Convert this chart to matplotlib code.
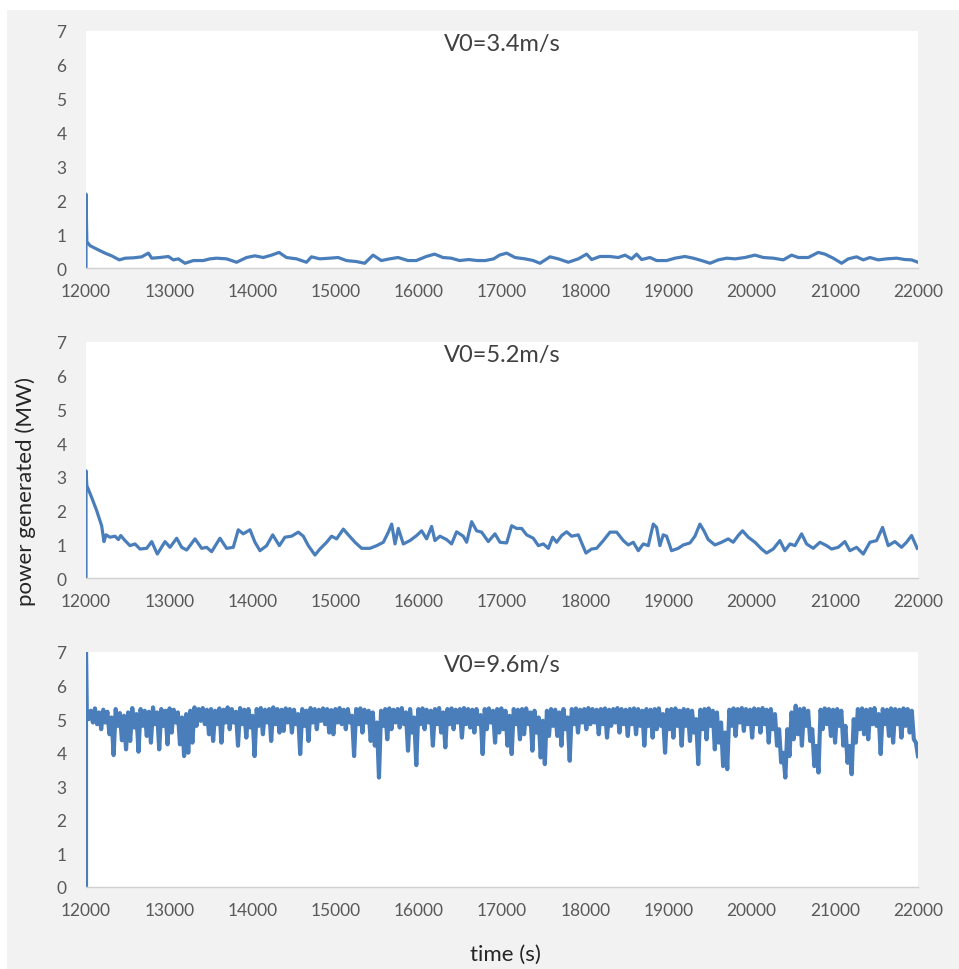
import numpy as np
import matplotlib
matplotlib.use("Agg")
import matplotlib.pyplot as plt
from matplotlib.patches import Rectangle

plt.rcParams["font.family"] = ["Lato", "DejaVu Sans"]

# ---------------- data ----------------
x_ticks = [12000, 13000, 14000, 15000, 16000, 17000, 18000, 19000, 20000, 21000, 22000]
y_ticks = [0, 1, 2, 3, 4, 5, 6, 7]
titles = ["V0=3.4m/s", "V0=5.2m/s", "V0=9.6m/s"]
x_label = "time (s)"
y_label = "power generated (MW)"

# V0 = 3.4 m/s
t1 = [12000, 12000, 12010, 12048, 12128, 12228, 12308, 12400, 12470, 12570,
      12670, 12750, 12790, 12890, 12990, 13050, 13110, 13190, 13290, 13410,
      13490, 13570, 13690, 13810, 13930, 14030, 14130, 14230, 14320, 14410,
      14530, 14650, 14710, 14810, 14930, 15030, 15130, 15250, 15350, 15450,
      15550, 15650, 15750, 15870, 15970, 16090, 16190, 16290, 16390, 16490,
      16600, 16700, 16800, 16900, 16970, 17056, 17156, 17276, 17376, 17456,
      17577, 17677, 17797, 17917, 18017, 18077, 18178, 18298, 18398, 18478,
      18558, 18618, 18678, 18778, 18858, 18979, 19079, 19199, 19299, 19399,
      19500, 19600, 19700, 19800, 19920, 20040, 20141, 20261, 20381, 20481,
      20561, 20681, 20801, 20881, 20981, 21082, 21162, 21262, 21342, 21422,
      21522, 21622, 21743, 21843, 21923, 22000]
v1 = [0.00, 2.18, 0.78, 0.66, 0.56, 0.44, 0.36, 0.24, 0.29, 0.30,
      0.33, 0.44, 0.29, 0.31, 0.34, 0.24, 0.27, 0.14, 0.22, 0.22,
      0.27, 0.29, 0.27, 0.17, 0.31, 0.36, 0.31, 0.38, 0.46, 0.31,
      0.27, 0.17, 0.33, 0.27, 0.29, 0.31, 0.22, 0.19, 0.14, 0.38,
      0.22, 0.27, 0.31, 0.22, 0.22, 0.34, 0.41, 0.31, 0.29, 0.22,
      0.25, 0.22, 0.22, 0.27, 0.38, 0.44, 0.31, 0.27, 0.22, 0.14,
      0.33, 0.27, 0.17, 0.27, 0.41, 0.25, 0.34, 0.34, 0.31, 0.38,
      0.27, 0.41, 0.25, 0.31, 0.22, 0.22, 0.29, 0.34, 0.29, 0.22,
      0.14, 0.24, 0.29, 0.27, 0.31, 0.38, 0.31, 0.29, 0.24, 0.38,
      0.31, 0.31, 0.46, 0.41, 0.29, 0.14, 0.27, 0.33, 0.24, 0.31,
      0.24, 0.27, 0.29, 0.25, 0.24, 0.17]

# V0 = 5.2 m/s
t2 = [12000, 12000, 12010, 12068, 12128, 12188, 12216, 12240, 12288, 12349,
      12389, 12417, 12469, 12529, 12589, 12649, 12729, 12790, 12857, 12950,
      13010, 13090, 13150, 13210, 13310, 13390, 13450, 13510, 13610, 13690,
      13770, 13830, 13890, 13971, 14031, 14091, 14171, 14244, 14324, 14391,
      14471, 14551, 14612, 14672, 14752, 14812, 14892, 14952, 15012, 15093,
      15153, 15233, 15313, 15413, 15494, 15574, 15634, 15674, 15714, 15754,
      15814, 15894, 15974, 16034, 16094, 16154, 16194, 16254, 16334, 16394,
      16454, 16534, 16575, 16635, 16695, 16755, 16835, 16915, 16976, 17056,
      17116, 17176, 17236, 17296, 17376, 17437, 17497, 17557, 17609, 17657,
      17717, 17777, 17837, 17917, 18009, 18077, 18137, 18218, 18298, 18378,
      18458, 18518, 18578, 18638, 18698, 18758, 18818, 18858, 18898, 18938,
      18978, 19038, 19118, 19179, 19259, 19319, 19379, 19427, 19479, 19559,
      19639, 19719, 19779, 19839, 19891, 19960, 20040, 20120, 20180, 20260,
      20340, 20400, 20461, 20521, 20601, 20661, 20741, 20821, 20901, 20961,
      21041, 21121, 21181, 21262, 21342, 21422, 21502, 21574, 21642, 21722,
      21802, 21862, 21923, 21990]
v2 = [0.00, 3.18, 2.74, 2.39, 2.00, 1.55, 1.08, 1.28, 1.21, 1.24,
      1.14, 1.26, 1.11, 0.96, 1.01, 0.86, 0.88, 1.08, 0.71, 1.08,
      0.91, 1.18, 0.91, 0.83, 1.16, 0.88, 0.91, 0.78, 1.18, 0.88,
      0.91, 1.43, 1.31, 1.43, 1.06, 0.81, 0.96, 1.28, 0.96, 1.21,
      1.24, 1.36, 1.24, 0.96, 0.68, 0.86, 1.06, 1.24, 1.16, 1.45,
      1.28, 1.06, 0.88, 0.88, 0.96, 1.06, 1.36, 1.60, 1.01, 1.47,
      1.01, 1.11, 1.26, 1.40, 1.16, 1.53, 1.11, 1.24, 1.14, 1.01,
      1.37, 1.24, 1.06, 1.67, 1.40, 1.36, 1.08, 1.31, 1.06, 1.04,
      1.55, 1.47, 1.47, 1.28, 1.18, 0.96, 1.01, 0.88, 1.21, 1.06,
      1.26, 1.37, 1.24, 1.28, 0.74, 0.86, 0.88, 1.11, 1.36, 1.36,
      1.11, 0.98, 1.06, 0.81, 1.01, 0.96, 1.60, 1.50, 0.96, 1.28,
      1.24, 0.81, 0.88, 0.98, 1.04, 1.24, 1.60, 1.40, 1.14, 0.98,
      1.06, 1.16, 1.06, 1.26, 1.40, 1.21, 1.06, 0.86, 0.74, 0.86,
      1.11, 0.81, 1.01, 0.96, 1.31, 1.01, 0.88, 1.06, 0.96, 0.86,
      0.91, 1.08, 0.81, 0.91, 0.71, 1.06, 1.11, 1.50, 0.96, 1.08,
      0.91, 1.06, 1.26, 0.88]

# V0 = 9.6 m/s : start-up transient, then per-50 s upper and lower swing
t3_start = [12000, 12000]
v3_start = [0.0, 7.0]
v3_high = [5.30, 5.25, 5.32, 5.20, 5.28, 5.22, 5.05, 5.30, 5.18, 5.10,
           5.20, 5.33, 5.15, 5.30, 5.25, 5.22, 5.35, 5.20, 5.30, 5.25,
           5.32, 5.28, 5.20, 5.05, 5.15, 5.25, 5.35, 5.30, 5.33, 5.28,
           5.30, 5.25, 5.32, 5.28, 5.35, 5.30, 5.22, 5.33, 5.28, 5.30,
           5.10, 5.30, 5.33, 5.28, 5.30, 5.35, 5.30, 5.28, 5.32, 5.30,
           5.28, 5.15, 5.30, 5.25, 5.33, 5.30, 5.28, 5.32, 5.30, 5.27,
           5.30, 5.33, 5.28, 5.30, 5.10, 5.30, 5.32, 5.28, 5.25, 5.20,
           4.90, 5.25, 5.30, 5.32, 5.28, 5.30, 5.33, 5.20, 5.30, 5.05,
           5.30, 5.32, 5.28, 5.25, 5.30, 5.33, 5.20, 5.30, 5.32, 5.28,
           5.30, 5.33, 5.30, 5.28, 5.30, 5.12, 5.30, 5.32, 5.25, 5.30,
           5.32, 5.25, 5.10, 5.30, 5.28, 5.30, 5.32, 5.20, 5.25, 5.05,
           4.95, 5.25, 5.30, 5.28, 5.20, 5.30, 5.05, 5.30, 5.32, 5.28,
           5.30, 5.33, 5.30, 5.28, 5.30, 5.32, 5.28, 5.30, 5.33, 5.30,
           5.28, 5.30, 5.32, 5.30, 5.25, 5.30, 5.28, 5.30, 5.32, 5.15,
           5.28, 5.30, 5.32, 5.25, 5.30, 5.28, 5.25, 5.00, 5.28, 5.30,
           5.32, 5.25, 5.20, 4.90, 4.60, 5.28, 5.32, 5.30, 5.33, 5.30,
           5.28, 5.32, 5.30, 5.33, 5.28, 5.30, 5.15, 4.70, 4.00, 4.70,
           5.20, 5.40, 5.30, 5.32, 5.25, 4.70, 4.20, 5.28, 5.32, 5.30,
           5.28, 5.30, 5.25, 4.80, 4.20, 5.00, 5.30, 5.32, 5.28, 5.30,
           5.33, 5.15, 5.30, 5.28, 5.32, 5.30, 5.28, 5.32, 5.30, 5.25,
           4.30]
v3_low = [5.00, 4.90, 4.85, 4.70, 4.90, 4.55, 3.93, 4.80, 4.37, 4.10,
          4.35, 4.75, 4.03, 4.80, 4.50, 4.30, 4.85, 4.10, 4.80, 4.25,
          4.60, 4.90, 4.25, 3.90, 4.00, 4.30, 4.80, 4.95, 4.85, 4.55,
          4.35, 4.85, 4.30, 4.90, 4.70, 4.90, 4.21, 4.85, 4.45, 4.75,
          3.90, 4.80, 4.55, 4.90, 4.35, 4.85, 4.60, 4.65, 4.90, 4.60,
          4.85, 3.96, 4.80, 4.35, 4.90, 4.70, 4.95, 4.85, 4.60, 4.55,
          4.90, 4.85, 4.70, 4.90, 3.90, 4.85, 4.60, 4.90, 4.35, 4.21,
          3.26, 4.80, 4.40, 4.70, 4.90, 4.75, 4.85, 4.06, 4.60, 3.63,
          4.85, 4.70, 4.90, 4.21, 4.85, 4.60, 4.16, 4.85, 4.70, 4.90,
          4.45, 4.85, 4.75, 4.60, 4.85, 3.96, 4.70, 4.90, 4.30, 4.60,
          4.70, 4.21, 3.96, 4.85, 4.40, 4.55, 4.85, 4.06, 4.60, 3.86,
          3.66, 4.50, 4.80, 4.50, 4.21, 4.70, 3.76, 4.85, 4.60, 4.90,
          4.70, 4.85, 4.90, 4.55, 4.85, 4.45, 4.80, 4.90, 4.60, 4.85,
          4.50, 4.85, 4.55, 4.80, 4.21, 4.80, 4.45, 4.70, 4.80, 4.00,
          4.70, 4.45, 4.80, 4.21, 4.80, 4.35, 4.60, 3.66, 4.70, 4.40,
          4.80, 4.10, 4.30, 3.60, 3.51, 4.80, 4.50, 4.90, 4.65, 4.85,
          4.45, 4.85, 4.60, 4.85, 4.30, 4.70, 4.21, 3.71, 3.26, 3.90,
          4.40, 4.55, 4.21, 4.80, 4.35, 3.60, 3.41, 4.70, 4.85, 4.50,
          4.30, 4.80, 4.21, 3.70, 3.36, 4.30, 4.70, 4.55, 4.40, 4.85,
          4.80, 3.96, 4.85, 4.50, 4.30, 4.85, 4.45, 4.80, 4.60, 4.40,
          3.90]

# interleave upper / lower samples into one time series
v3_body = np.column_stack([v3_high, v3_low]).ravel()
t3_body = np.linspace(12008, 22000, len(v3_body))
t3 = np.concatenate([t3_start, t3_body])
v3 = np.concatenate([v3_start, v3_body])

series = [(t1, v1, 2.3), (t2, v2, 2.3), (t3, v3, 3.0)]

# ---------------- layout ----------------
W, H = 959, 970
fig = plt.figure(figsize=(W / 100, H / 100), dpi=100, facecolor="#f2f2f2")
fig.patches.append(Rectangle((0, 1 - 11 / H), 1, 11 / H, transform=fig.transFigure,
                             facecolor="white", edgecolor="none", zorder=0))
fig.patches.append(Rectangle((0, 0), 7 / W, 1, transform=fig.transFigure,
                             facecolor="white", edgecolor="none", zorder=0))

left_px, right_px = 86, 918
boxes = [(32, 269), (343, 579), (653, 888)]
line_color = "#4a7ebb"
tick_color = "#595959"

for (top_px, bot_px), (tt, vv, lw), title in zip(boxes, series, titles):
    ax = fig.add_axes([left_px / W, 1 - bot_px / H,
                       (right_px - left_px) / W, (bot_px - top_px) / H])
    ax.set_facecolor("white")
    ax.plot(tt, vv, color=line_color, lw=lw, solid_joinstyle="round")
    ax.set_xlim(12000, 22000)
    ax.set_ylim(0, 7)
    ax.set_xticks(x_ticks)
    ax.set_xticklabels([str(v) for v in x_ticks])
    ax.set_yticks(y_ticks)
    ax.set_yticklabels([str(v) for v in y_ticks])
    ax.tick_params(axis="both", length=0, labelsize=12.5, colors=tick_color)
    ax.tick_params(axis="y", pad=14)
    ax.tick_params(axis="x", pad=11)
    for side in ["top", "right", "left"]:
        ax.spines[side].set_visible(False)
    ax.spines["bottom"].set_color("#d0d0d0")
    ax.spines["bottom"].set_linewidth(1.0)
    ax.text(0.5, 1 - 13 / (bot_px - top_px), title, transform=ax.transAxes,
            ha="center", va="center", fontsize=17, color="#404040")

fig.text(26 / W, 1 - 491 / H, y_label, rotation=90, ha="center", va="center",
         fontsize=16, color="#262626")
fig.text(505 / W, 1 - 955 / H, x_label, ha="center", va="center",
         fontsize=16, color="#262626")

fig.savefig("out.png", dpi=100, facecolor=fig.get_facecolor())
